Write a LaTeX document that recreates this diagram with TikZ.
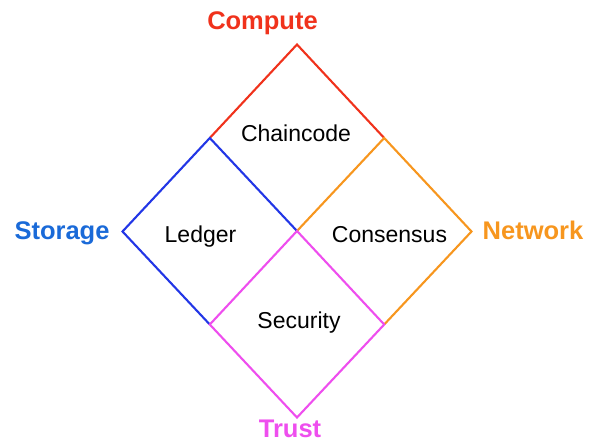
\documentclass[tikz,border=0pt]{standalone}
\usepackage{fontspec}
\setmainfont{Liberation Sans}
\definecolor{cred}{HTML}{F0321C}
\definecolor{cblue}{HTML}{2236E6}
\definecolor{cbluetxt}{HTML}{1A6AD8}
\definecolor{corange}{HTML}{F7961E}
\definecolor{cmag}{HTML}{EE4EEE}
\begin{document}
\begin{tikzpicture}[x=1pt,y=-1pt,
  edge/.style={line width=2.1pt, line cap=round, line join=miter},
  inner/.style={font=\fontsize{23}{23}\selectfont, inner sep=0pt, anchor=base},
  outer/.style={font=\fontsize{25.5}{25.5}\selectfont\bfseries, inner sep=0pt, anchor=base}]
\useasboundingbox (0,0) rectangle (589,442);
\coordinate (T) at (297,44.5);
\coordinate (L) at (122.5,231.5);
\coordinate (R) at (471.5,231.5);
\coordinate (B) at (297,417.5);
\coordinate (C) at (297,231);
\coordinate (TL) at (209.8,138);
\coordinate (TR) at (384.2,138);
\coordinate (BL) at (209.8,324.5);
\coordinate (BR) at (384.2,324.5);
\draw[edge, cred] (TL) -- (T) -- (TR);
\draw[edge, cblue] (C) -- (TL) -- (L) -- (BL);
\draw[edge, corange] (C) -- (TR) -- (R) -- (BR);
\draw[edge, cmag] (BL) -- (C) -- (BR) -- (B) -- (BL) -- cycle;
\node[inner] (chain) at (296,141.5) {Chaincode};
\node[inner] (ledger) at (200.5,242) {Ledger};
\node[inner] (cons) at (389.5,242) {Consensus};
\node[inner] (sec) at (299,328.5) {Security};
\node[outer, text=cred] (compute) at (262.5,29) {Compute};
\node[outer, text=cbluetxt] (storage) at (62,239.5) {Storage};
\node[outer, text=corange] (network) at (533,239.5) {Network};
\node[outer, text=cmag] (trust) at (290,437) {Trust};
\end{tikzpicture}
\end{document}
